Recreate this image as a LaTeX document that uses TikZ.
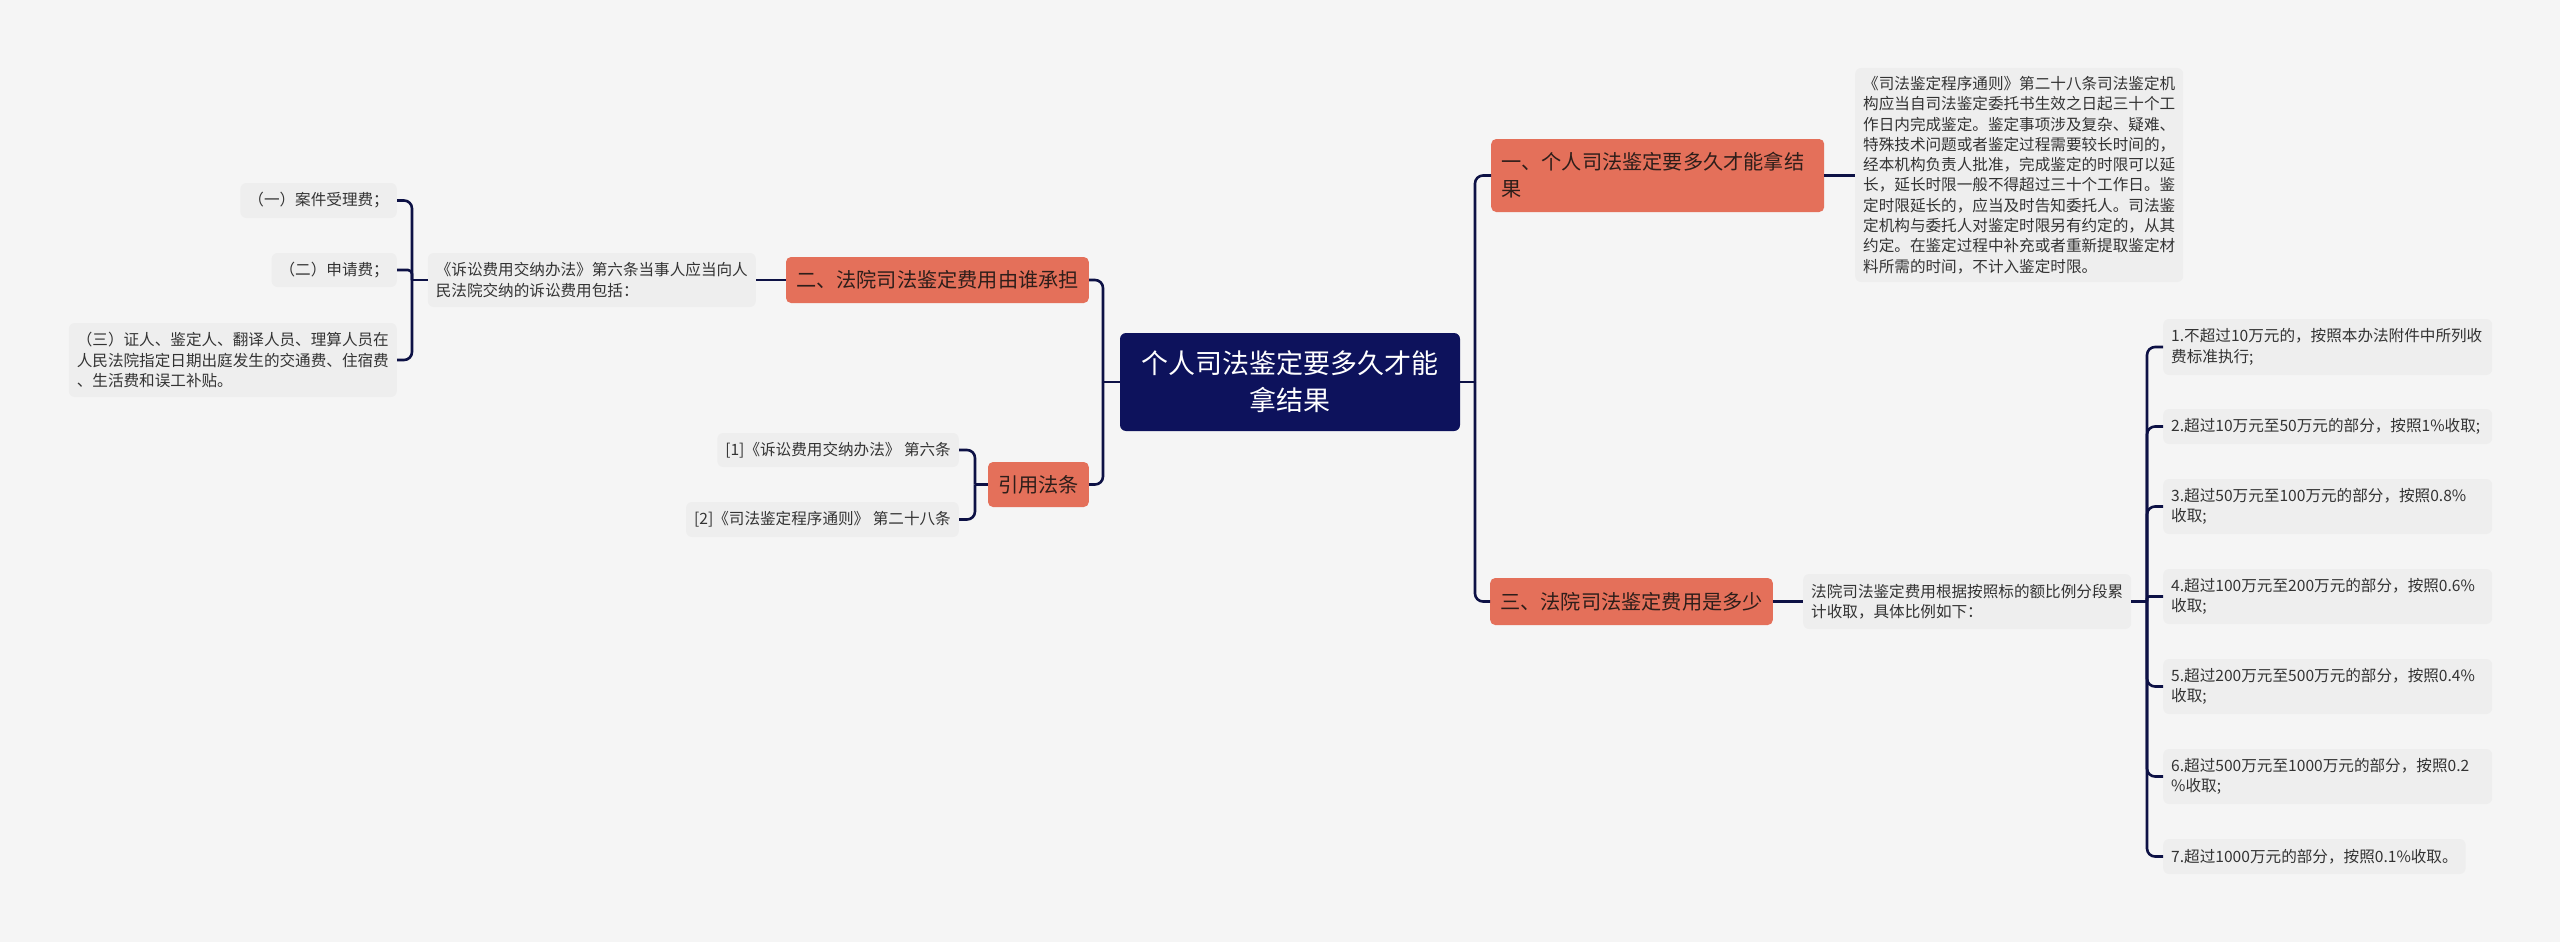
\documentclass[tikz,border=0pt]{standalone}
\usepackage{fontspec}
\setmainfont{Noto Sans CJK SC}
\definecolor{bgc}{HTML}{F5F5F5}
\definecolor{leafc}{HTML}{EEEEEE}
\definecolor{brc}{HTML}{E4705A}
\definecolor{rootc}{HTML}{0D125C}
\definecolor{linec}{HTML}{0D1145}
\definecolor{leaftext}{HTML}{333333}
\definecolor{brtext}{HTML}{2E1E1A}
\tikzset{
 rootbox/.style={fill=rootc, text=white, rounded corners=6pt, inner xsep=21pt, inner ysep=0pt, minimum width=340pt, minimum height=98pt, align=center, font=\fontsize{27}{37}\selectfont},
 brbox/.style={fill=brc, text=brtext, rounded corners=5pt, inner xsep=10pt, inner ysep=0pt, font=\fontsize{20.2}{27}\selectfont},
 leafbox/.style={fill=leafc, text=leaftext, rounded corners=6pt, inner xsep=8pt, inner ysep=0pt, align=left, font=\fontsize{15.6}{20.3}\selectfont},
 conn/.style={draw=linec, line width=2.6pt, rounded corners=8pt},
}
\begin{document}
\begin{tikzpicture}[x=1pt,y=-1pt]
\fill[bgc] (0,0) rectangle (2560,942);
\useasboundingbox (0,0) rectangle (2560,942);

% root
\node[rootbox] (root) at (1290,382) {个人司法鉴定要多久才能\\拿结果};

% branch 1
\node[brbox, anchor=west, minimum height=73pt, text width=313pt, align=left] (b1) at (1491,175.5) {一、个人司法鉴定要多久才能拿结\\果};
\node[leafbox, anchor=west, minimum height=214pt, text width=312pt] (l1) at (1855,175) {《司法鉴定程序通则》第二十八条司法鉴定机\\构应当自司法鉴定委托书生效之日起三十个工\\作日内完成鉴定。鉴定事项涉及复杂、疑难、\\特殊技术问题或者鉴定过程需要较长时间的，\\经本机构负责人批准，完成鉴定的时限可以延\\长，延长时限一般不得超过三十个工作日。鉴\\定时限延长的，应当及时告知委托人。司法鉴\\定机构与委托人对鉴定时限另有约定的，从其\\约定。在鉴定过程中补充或者重新提取鉴定材\\料所需的时间，不计入鉴定时限。};

% branch 2
\node[brbox, anchor=east, minimum height=46pt] (b2) at (1089,280) {二、法院司法鉴定费用由谁承担};
\node[leafbox, anchor=east, minimum height=54pt] (l2) at (756,280) {《诉讼费用交纳办法》第六条当事人应当向人\\民法院交纳的诉讼费用包括：};
\node[leafbox, anchor=east, minimum height=35pt] (c1) at (397,200.5) {（一）案件受理费；};
\node[leafbox, anchor=east, minimum height=34pt] (c2) at (397,270) {（二）申请费；};
\node[leafbox, anchor=east, minimum height=74pt] (c3) at (397,360) {（三）证人、鉴定人、翻译人员、理算人员在\\人民法院指定日期出庭发生的交通费、住宿费\\、生活费和误工补贴。};

% branch 4
\node[brbox, anchor=east, minimum height=45pt] (b4) at (1089,484.5) {引用法条};
\node[leafbox, anchor=east, minimum height=34pt] (r1) at (959,450) {[1]《诉讼费用交纳办法》 第六条};
\node[leafbox, anchor=east, minimum height=35pt] (r2) at (959,519.5) {[2]《司法鉴定程序通则》 第二十八条};

% branch 3
\node[brbox, anchor=west, minimum height=47pt] (b3) at (1490,601.5) {三、法院司法鉴定费用是多少};
\node[leafbox, anchor=west, minimum height=55pt] (l3) at (1803,601.5) {法院司法鉴定费用根据按照标的额比例分段累\\计收取，具体比例如下：};
\node[leafbox, anchor=west, minimum height=56pt, text width=313pt] (d1) at (2163,347) {1.不超过10万元的，按照本办法附件中所列收\\费标准执行;};
\node[leafbox, anchor=west, minimum height=35pt, text width=313pt] (d2) at (2163,426.5) {2.超过10万元至50万元的部分，按照1\%收取;};
\node[leafbox, anchor=west, minimum height=55pt, text width=313pt] (d3) at (2163,506.5) {3.超过50万元至100万元的部分，按照0.8\%\\收取;};
\node[leafbox, anchor=west, minimum height=55pt, text width=313pt] (d4) at (2163,596.5) {4.超过100万元至200万元的部分，按照0.6\%\\收取;};
\node[leafbox, anchor=west, minimum height=55pt, text width=313pt] (d5) at (2163,686.5) {5.超过200万元至500万元的部分，按照0.4\%\\收取;};
\node[leafbox, anchor=west, minimum height=55pt, text width=313pt] (d6) at (2163,776.5) {6.超过500万元至1000万元的部分，按照0.2\\\%收取;};
\node[leafbox, anchor=west, minimum height=35pt] (d7) at (2163,856.5) {7.超过1000万元的部分，按照0.1\%收取。};

% junctions
\coordinate (jr) at (1475,382);
\coordinate (jl) at (1103,382);
\coordinate (j2) at (412,280);
\coordinate (j4) at (975,484.5);
\coordinate (j3) at (2147,601.5);

% connectors
\draw[conn] (root.east) -- (jr);
\draw[conn] (jr) |- (b1.west);
\draw[conn] (jr) |- (b3.west);
\draw[conn] (root.west) -- (jl);
\draw[conn] (jl) |- (b2.east);
\draw[conn] (jl) |- (b4.east);

\draw[conn] (b1.east) -- (l1.west |- b1.east);

\draw[conn] (b2.west) -- (l2.east);
\draw[conn] (l2.west) -- (j2);
\draw[conn] (j2) |- (c1.east);
\draw[conn, rounded corners=4pt] (j2) |- (c2.east);
\draw[conn] (j2) |- (c3.east);

\draw[conn] (b4.west) -- (j4);
\draw[conn] (j4) |- (r1.east);
\draw[conn] (j4) |- (r2.east);

\draw[conn] (b3.east) -- (l3.west);
\draw[conn] (l3.east) -- (j3);
\draw[conn] (j3) |- (d1.west);
\draw[conn] (j3) |- (d2.west);
\draw[conn] (j3) |- (d3.west);
\draw[conn, rounded corners=2pt] (j3) |- (d4.west);
\draw[conn] (j3) |- (d5.west);
\draw[conn] (j3) |- (d6.west);
\draw[conn] (j3) |- (d7.west);
\end{tikzpicture}
\end{document}
